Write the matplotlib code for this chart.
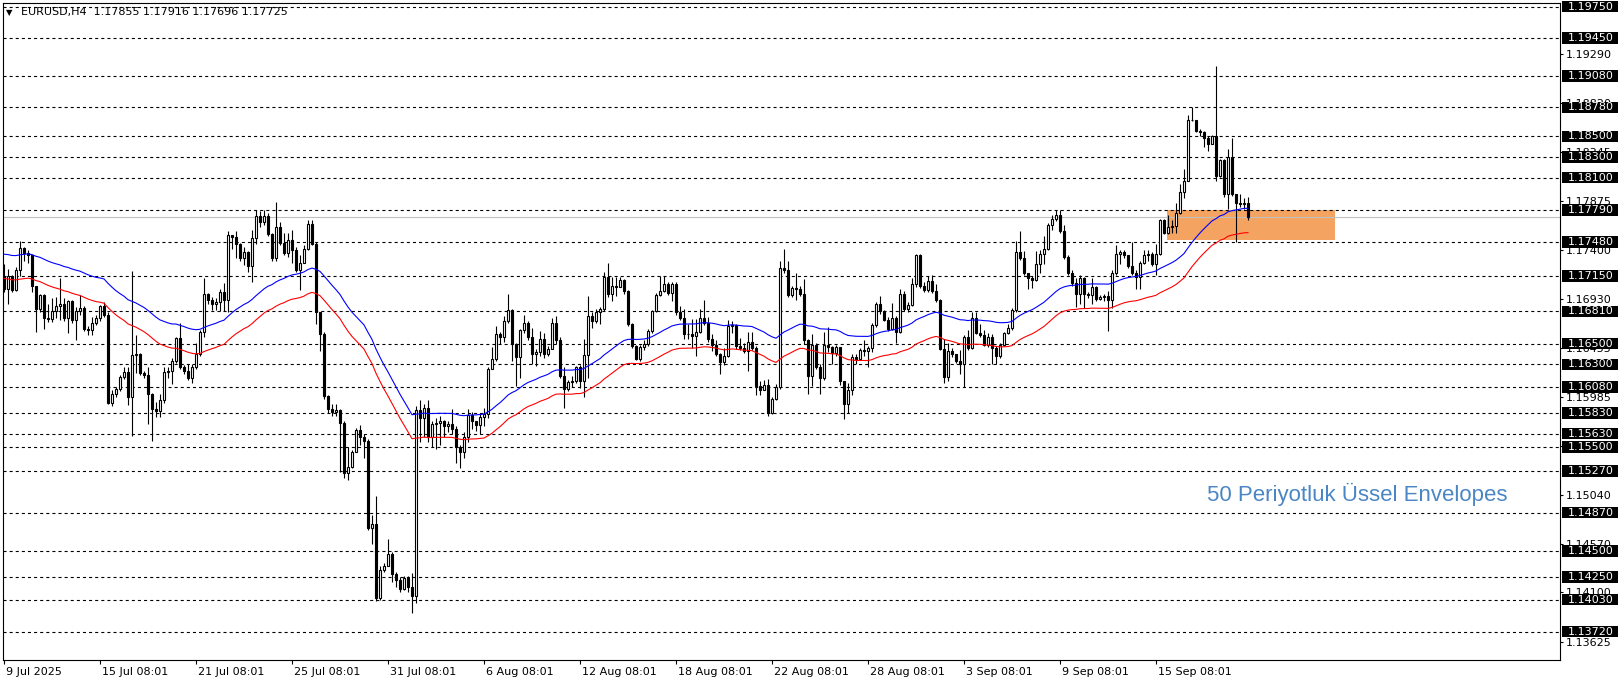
import numpy as np
import matplotlib
matplotlib.use("Agg")
import matplotlib.pyplot as plt
from matplotlib.patches import Rectangle
from matplotlib.transforms import blended_transform_factory, ScaledTranslation

# ---------------- data ----------------
SYMBOL = "EURUSD,H4"
HEADER_OHLC = [1.17855, 1.17916, 1.17696, 1.17725]
OPEN_FIRST = 1.1715

CLOSE = [
    1.1703, 1.1715, 1.1702, 1.1721, 1.1742, 1.1737, 1.1735, 1.1706, 1.1683, 1.1697,
    1.1675, 1.1674, 1.1681, 1.1686, 1.1688, 1.1675, 1.1691, 1.1673, 1.1681, 1.1684,
    1.1664, 1.1663, 1.1670, 1.1675, 1.1686, 1.1678, 1.1593, 1.1601, 1.1606, 1.1618,
    1.1623, 1.1598, 1.1639, 1.1640, 1.1622, 1.1620, 1.1601, 1.1587, 1.1585, 1.1596,
    1.1623, 1.1624, 1.1633, 1.1655, 1.1627, 1.1624, 1.1617, 1.1627, 1.1640, 1.1661,
    1.1698, 1.1692, 1.1688, 1.1690, 1.1700, 1.1692, 1.1755, 1.1753, 1.1746, 1.1733,
    1.1738, 1.1725, 1.1752, 1.1773, 1.1767, 1.1773, 1.1756, 1.1733, 1.1762, 1.1747,
    1.1737, 1.1750, 1.1740, 1.1721, 1.1728, 1.1741, 1.1765, 1.1746, 1.1680, 1.1659,
    1.1599, 1.1587, 1.1584, 1.1586, 1.1573, 1.1525, 1.1531, 1.1545, 1.1567, 1.1560,
    1.1556, 1.1472, 1.1476, 1.1405, 1.1432, 1.1435, 1.1447, 1.1428, 1.1422, 1.1413,
    1.1424, 1.1415, 1.1406, 1.1586, 1.1578, 1.1588, 1.1560, 1.1572, 1.1573, 1.1575,
    1.1570, 1.1572, 1.1568, 1.1550, 1.1545, 1.1560, 1.1581, 1.1575, 1.1571, 1.1579,
    1.1582, 1.1625, 1.1635, 1.1659, 1.1656, 1.1672, 1.1682, 1.1650, 1.1637, 1.1663,
    1.1670, 1.1656, 1.1640, 1.1642, 1.1654, 1.1640, 1.1645, 1.1670, 1.1653, 1.1619,
    1.1606, 1.1613, 1.1614, 1.1627, 1.1614, 1.1639, 1.1677, 1.1672, 1.1680, 1.1683,
    1.1714, 1.1698, 1.1706, 1.1705, 1.1711, 1.1701, 1.1669, 1.1648, 1.1635, 1.1647,
    1.1650, 1.1662, 1.1681, 1.1697, 1.1701, 1.1707, 1.1699, 1.1707, 1.1680, 1.1675,
    1.1659, 1.1659, 1.1657, 1.1661, 1.1675, 1.1670, 1.1654, 1.1649, 1.1640, 1.1632,
    1.1638, 1.1667, 1.1668, 1.1648, 1.1646, 1.1643, 1.1652, 1.1646, 1.1609, 1.1605,
    1.1610, 1.1583, 1.1597, 1.1608, 1.1723, 1.1721, 1.1697, 1.1704, 1.1703, 1.1698,
    1.1653, 1.1619, 1.1649, 1.1627, 1.1617, 1.1649, 1.1647, 1.1641, 1.1647, 1.1614,
    1.1592, 1.1605, 1.1637, 1.1635, 1.1644, 1.1643, 1.1646, 1.1668, 1.1688, 1.1681,
    1.1673, 1.1664, 1.1675, 1.1661, 1.1698, 1.1683, 1.1687, 1.1707, 1.1735, 1.1706,
    1.1702, 1.1710, 1.1701, 1.1692, 1.1645, 1.1618, 1.1643, 1.1640, 1.1633, 1.1630,
    1.1656, 1.1646, 1.1675, 1.1660, 1.1658, 1.1649, 1.1656, 1.1646, 1.1638, 1.1649,
    1.1660, 1.1665, 1.1682, 1.1738, 1.1733, 1.1718, 1.1713, 1.1711, 1.1727, 1.1736,
    1.1741, 1.1764, 1.1770, 1.1774, 1.1759, 1.1734, 1.1718, 1.1708, 1.1698, 1.1713,
    1.1698, 1.1697, 1.1705, 1.1693, 1.1695, 1.1696, 1.1692, 1.1718, 1.1736, 1.1738,
    1.1735, 1.1725, 1.1718, 1.1714, 1.1728, 1.1735, 1.1736, 1.1727, 1.1736, 1.1769,
    1.1757, 1.1762, 1.1763, 1.1776, 1.1796, 1.1807, 1.1866, 1.1866, 1.1855, 1.1854,
    1.1848, 1.1843, 1.1850, 1.1812, 1.1827, 1.1794, 1.1830, 1.1794, 1.1786, 1.1785,
    1.17855, 1.17725,
]

HIGH = [
    1.1727, 1.1722, 1.1716, 1.1724, 1.1749, 1.1743, 1.1740, 1.1727, 1.1706, 1.1698,
    1.1698, 1.1688, 1.1694, 1.1695, 1.1713, 1.1694, 1.1692, 1.1692, 1.1685, 1.1697,
    1.1686, 1.1667, 1.1676, 1.1678, 1.1687, 1.1690, 1.1680, 1.1605, 1.1608, 1.1620,
    1.1627, 1.1627, 1.1720, 1.1658, 1.1641, 1.1624, 1.1627, 1.1602, 1.1594, 1.1601,
    1.1627, 1.1627, 1.1636, 1.1656, 1.1670, 1.1629, 1.1630, 1.1630, 1.1651, 1.1663,
    1.1713, 1.1699, 1.1695, 1.1694, 1.1703, 1.1708, 1.1759, 1.1754, 1.1759, 1.1747,
    1.1743, 1.1739, 1.1760, 1.1779, 1.1778, 1.1779, 1.1776, 1.1757, 1.1787, 1.1767,
    1.1757, 1.1757, 1.1760, 1.1743, 1.1735, 1.1745, 1.1769, 1.1769, 1.1748, 1.1680,
    1.1661, 1.1600, 1.1592, 1.1592, 1.1587, 1.1575, 1.1550, 1.1547, 1.1569, 1.1571,
    1.1563, 1.1558, 1.1485, 1.1503, 1.1435, 1.1438, 1.1461, 1.1449, 1.1430, 1.1425,
    1.1426, 1.1426, 1.1429, 1.1590, 1.1596, 1.1592, 1.1596, 1.1575, 1.1578, 1.1580,
    1.1576, 1.1575, 1.1587, 1.1570, 1.1552, 1.1565, 1.1587, 1.1584, 1.1574, 1.1583,
    1.1588, 1.1627, 1.1647, 1.1667, 1.1661, 1.1677, 1.1698, 1.1683, 1.1651, 1.1664,
    1.1678, 1.1672, 1.1665, 1.1645, 1.1662, 1.1660, 1.1648, 1.1675, 1.1677, 1.1656,
    1.1627, 1.1615, 1.1619, 1.1628, 1.1629, 1.1654, 1.1696, 1.1680, 1.1683, 1.1685,
    1.1719, 1.1728, 1.1714, 1.1714, 1.1714, 1.1712, 1.1702, 1.1670, 1.1649, 1.1649,
    1.1653, 1.1664, 1.1682, 1.1699, 1.1715, 1.1715, 1.1709, 1.1709, 1.1709, 1.1686,
    1.1683, 1.1669, 1.1674, 1.1674, 1.1683, 1.1692, 1.1676, 1.1659, 1.1653, 1.1641,
    1.1646, 1.1673, 1.1672, 1.1669, 1.1655, 1.1651, 1.1661, 1.1661, 1.1648, 1.1614,
    1.1615, 1.1616, 1.1598, 1.1611, 1.1730, 1.1741, 1.1730, 1.1706, 1.1718, 1.1706,
    1.1712, 1.1654, 1.1659, 1.1651, 1.1630, 1.1661, 1.1666, 1.1648, 1.1649, 1.1640,
    1.1614, 1.1612, 1.1640, 1.1640, 1.1646, 1.1653, 1.1648, 1.1670, 1.1690, 1.1696,
    1.1682, 1.1676, 1.1689, 1.1677, 1.1703, 1.1701, 1.1690, 1.1713, 1.1736, 1.1736,
    1.1709, 1.1715, 1.1716, 1.1707, 1.1693, 1.1654, 1.1651, 1.1646, 1.1640, 1.1644,
    1.1658, 1.1663, 1.1680, 1.1680, 1.1669, 1.1663, 1.1660, 1.1659, 1.1648, 1.1651,
    1.1661, 1.1669, 1.1684, 1.1749, 1.1759, 1.1739, 1.1716, 1.1715, 1.1739, 1.1740,
    1.1754, 1.1766, 1.1774, 1.1779, 1.1779, 1.1764, 1.1735, 1.1721, 1.1713, 1.1716,
    1.1714, 1.1700, 1.1713, 1.1706, 1.1697, 1.1698, 1.1701, 1.1721, 1.1745, 1.1740,
    1.1740, 1.1735, 1.1748, 1.1721, 1.1730, 1.1740, 1.1740, 1.1738, 1.1746, 1.1770,
    1.1770, 1.1774, 1.1769, 1.1786, 1.1804, 1.1818, 1.1871, 1.1878, 1.1860, 1.1857,
    1.1855, 1.1850, 1.1851, 1.1918, 1.1828, 1.1828, 1.1838, 1.1848, 1.1794, 1.1794,
    1.1790, 1.17916,
]

LOW = [
    1.1700, 1.1688, 1.1700, 1.1701, 1.1715, 1.1730, 1.1728, 1.1700, 1.1661, 1.1680,
    1.1664, 1.1671, 1.1671, 1.1675, 1.1673, 1.1672, 1.1660, 1.1670, 1.1653, 1.1678,
    1.1662, 1.1658, 1.1658, 1.1668, 1.1672, 1.1676, 1.1592, 1.1590, 1.1598, 1.1604,
    1.1616, 1.1591, 1.1561, 1.1622, 1.1620, 1.1617, 1.1572, 1.1556, 1.1579, 1.1579,
    1.1593, 1.1617, 1.1611, 1.1631, 1.1625, 1.1621, 1.1615, 1.1612, 1.1625, 1.1638,
    1.1656, 1.1688, 1.1682, 1.1682, 1.1681, 1.1681, 1.1680, 1.1741, 1.1733, 1.1730,
    1.1726, 1.1719, 1.1709, 1.1746, 1.1762, 1.1764, 1.1754, 1.1730, 1.1730, 1.1745,
    1.1735, 1.1734, 1.1728, 1.1719, 1.1702, 1.1728, 1.1740, 1.1745, 1.1669, 1.1643,
    1.1597, 1.1583, 1.1580, 1.1580, 1.1526, 1.1520, 1.1518, 1.1530, 1.1545, 1.1552,
    1.1540, 1.1470, 1.1457, 1.1402, 1.1403, 1.1430, 1.1435, 1.1420, 1.1415, 1.1410,
    1.1412, 1.1410, 1.1390, 1.1400, 1.1555, 1.1560, 1.1555, 1.1550, 1.1548, 1.1552,
    1.1560, 1.1565, 1.1563, 1.1535, 1.1530, 1.1540, 1.1555, 1.1568, 1.1566, 1.1563,
    1.1570, 1.1578, 1.1625, 1.1633, 1.1650, 1.1652, 1.1670, 1.1633, 1.1609, 1.1617,
    1.1660, 1.1653, 1.1630, 1.1628, 1.1638, 1.1636, 1.1638, 1.1645, 1.1650, 1.1617,
    1.1588, 1.1604, 1.1608, 1.1612, 1.1607, 1.1598, 1.1617, 1.1665, 1.1670, 1.1669,
    1.1681, 1.1695, 1.1691, 1.1696, 1.1705, 1.1698, 1.1667, 1.1646, 1.1634, 1.1633,
    1.1644, 1.1648, 1.1660, 1.1680, 1.1696, 1.1700, 1.1697, 1.1691, 1.1678, 1.1673,
    1.1654, 1.1654, 1.1646, 1.1638, 1.1660, 1.1668, 1.1652, 1.1643, 1.1638, 1.1621,
    1.1629, 1.1637, 1.1660, 1.1645, 1.1644, 1.1641, 1.1624, 1.1644, 1.1600, 1.1600,
    1.1606, 1.1580, 1.1582, 1.1596, 1.1606, 1.1718, 1.1695, 1.1695, 1.1692, 1.1696,
    1.1650, 1.1601, 1.1609, 1.1625, 1.1601, 1.1615, 1.1642, 1.1630, 1.1638, 1.1610,
    1.1577, 1.1583, 1.1600, 1.1630, 1.1634, 1.1638, 1.1627, 1.1642, 1.1666, 1.1679,
    1.1672, 1.1662, 1.1663, 1.1651, 1.1660, 1.1681, 1.1680, 1.1686, 1.1705, 1.1704,
    1.1700, 1.1700, 1.1699, 1.1690, 1.1644, 1.1612, 1.1614, 1.1637, 1.1631, 1.1621,
    1.1608, 1.1644, 1.1645, 1.1659, 1.1656, 1.1648, 1.1647, 1.1630, 1.1630, 1.1636,
    1.1648, 1.1659, 1.1663, 1.1680, 1.1731, 1.1716, 1.1703, 1.1704, 1.1710, 1.1718,
    1.1727, 1.1740, 1.1760, 1.1768, 1.1757, 1.1732, 1.1716, 1.1706, 1.1685, 1.1688,
    1.1684, 1.1694, 1.1688, 1.1691, 1.1692, 1.1691, 1.1662, 1.1684, 1.1716, 1.1727,
    1.1733, 1.1723, 1.1716, 1.1703, 1.1703, 1.1727, 1.1730, 1.1725, 1.1716, 1.1735,
    1.1756, 1.1756, 1.1757, 1.1757, 1.1775, 1.1790, 1.1807, 1.1865, 1.1854, 1.1850,
    1.1840, 1.1836, 1.1843, 1.1807, 1.1811, 1.1791, 1.1780, 1.1792, 1.1748, 1.1782,
    1.1780, 1.17696,
]

# Envelopes indicator settings (EMA 50, +/-0.1 %), start value read at left edge
ENV_PERIOD = 50
ENV_DEVIATION = 0.001
ENV_START = 1.17245

LEVELS = [1.19750, 1.19450, 1.19080, 1.18780, 1.18500, 1.18300, 1.18100, 1.17790,
          1.17480, 1.17150, 1.16810, 1.16500, 1.16300, 1.16080, 1.15830, 1.15630,
          1.15500, 1.15270, 1.14870, 1.14500, 1.14250, 1.14030, 1.13720]
SCALE_TICKS = [1.13625, 1.14100, 1.14570, 1.15040, 1.15510, 1.15985, 1.16455,
               1.16930, 1.17400, 1.17875, 1.18345, 1.18820, 1.19290]
CURRENT_PRICE = 1.17725
ZONE_LOW, ZONE_HIGH = 1.17500, 1.17790
ZONE_START_BAR, ZONE_END_BAR = 290.75, 332.75

DATE_TICK_BARS = [0, 24, 48, 72, 96, 120, 144, 168, 192, 216, 240, 264, 288]
DATE_LABELS = ["9 Jul 2025", "15 Jul 08:01", "21 Jul 08:01", "25 Jul 08:01",
               "31 Jul 08:01", "6 Aug 08:01", "12 Aug 08:01", "18 Aug 08:01",
               "22 Aug 08:01", "28 Aug 08:01", "3 Sep 08:01", "9 Sep 08:01",
               "15 Sep 08:01"]
NOTE_TEXT = "50 Periyotluk Üssel Envelopes"

# ---------------- figure ----------------
plt.rcParams["font.family"] = ["DejaVu Sans"]
plt.rcParams["lines.scale_dashes"] = False

W, H = 1624, 684
fig = plt.figure(figsize=(W / 100, H / 100), dpi=100)
L_PX, R_PX, T_PX, B_PX = 3, 1560, 3, 660
ax = fig.add_axes([L_PX / W, 1 - B_PX / H, (R_PX - L_PX) / W, (B_PX - T_PX) / H])

YMIN, YMAX = 1.13447, 1.19786
ax.set_xlim(-0.25, 389.0)
ax.set_ylim(YMIN, YMAX)
px_per_unit = (B_PX - T_PX) / (YMAX - YMIN)

n = min(len(CLOSE), len(HIGH), len(LOW))
c = np.array(CLOSE[:n])
o = np.concatenate([[OPEN_FIRST], c[:-1]])
hi = np.maximum(np.array(HIGH[:n]), np.maximum(o, c))
lo = np.minimum(np.array(LOW[:n]), np.minimum(o, c))
x = np.arange(n)

# zone
ax.add_patch(Rectangle((ZONE_START_BAR, ZONE_LOW), ZONE_END_BAR - ZONE_START_BAR,
                       ZONE_HIGH - ZONE_LOW, facecolor="#f4a460", edgecolor="none", zorder=1))

# levels
for lv in LEVELS:
    ax.axhline(lv, color="black", lw=0.8, ls=(0, (2.2, 2.2)), zorder=2)
ax.axhline(CURRENT_PRICE, color="#c0c0c0", lw=0.8, zorder=2.2)

# candles
ax.vlines(x, lo, hi, color="black", lw=0.8, zorder=4)
up = c >= o
body_up = np.maximum((c - o)[up], 1e-6)
body_dn = np.maximum((o - c)[~up], 1e-6)
ax.bar(x[up], body_up, bottom=o[up], width=0.5, facecolor="white",
       edgecolor="black", linewidth=0.8, zorder=5)
ax.bar(x[~up], body_dn, bottom=c[~up], width=0.5, facecolor="black",
       edgecolor="black", linewidth=0.8, zorder=5)

# envelopes
ema = np.empty(n)
ema[0] = ENV_START
k = 2.0 / (ENV_PERIOD + 1)
for i in range(1, n):
    ema[i] = ema[i - 1] + k * (c[i] - ema[i - 1])
ax.plot(x, ema * (1 + ENV_DEVIATION), color="#0000ff", lw=0.8, zorder=6)
ax.plot(x, ema * (1 - ENV_DEVIATION), color="#ff0000", lw=0.8, zorder=6)

# frame
for s in ax.spines.values():
    s.set_linewidth(0.8)
    s.set_color("black")

# y axis on right
ax.yaxis.tick_right()
ax.set_yticks(SCALE_TICKS)
ax.set_yticklabels([f"{v:.5f}" for v in SCALE_TICKS])
ax.tick_params(axis="y", direction="out", length=2.5, width=0.8, pad=2,
               labelsize=8, colors="black")

# x axis
ax.set_xticks(DATE_TICK_BARS)
ax.set_xticklabels(DATE_LABELS)
ax.tick_params(axis="x", direction="out", length=3, width=0.8, pad=2, labelsize=8)
off = ScaledTranslation(2 / 100, 0, fig.dpi_scale_trans)
for lab in ax.get_xticklabels():
    lab.set_horizontalalignment("left")
    lab.set_transform(lab.get_transform() + off)

# level boxes on price scale
trans = blended_transform_factory(fig.transFigure, ax.transData)
box_h = 11.5 / px_per_unit
for lv in LEVELS:
    ax.add_patch(Rectangle((1562 / W, lv - box_h / 2), 56 / W, box_h,
                           transform=trans, facecolor="black", edgecolor="none",
                           clip_on=False, zorder=10))
    ax.text(1568 / W, lv, f"{lv:.5f}", transform=trans, color="white", fontsize=8,
            ha="left", va="center", clip_on=False, zorder=11)

# header
fig.text(6 / W, 1 - 13 / H, "▼", fontsize=6, color="black", ha="left", va="center")
fig.text(21 / W, 1 - 12.5 / H,
         f"{SYMBOL}  " + " ".join(f"{v:.5f}" for v in HEADER_OHLC),
         fontsize=8, color="black", ha="left", va="center")

# annotation
fig.text(1207 / W, 1 - 494 / H, NOTE_TEXT, fontsize=16, color="#4a86c4",
         family=["Liberation Sans", "DejaVu Sans"], ha="left", va="center")

fig.savefig("out.png", dpi=100, facecolor="white")
